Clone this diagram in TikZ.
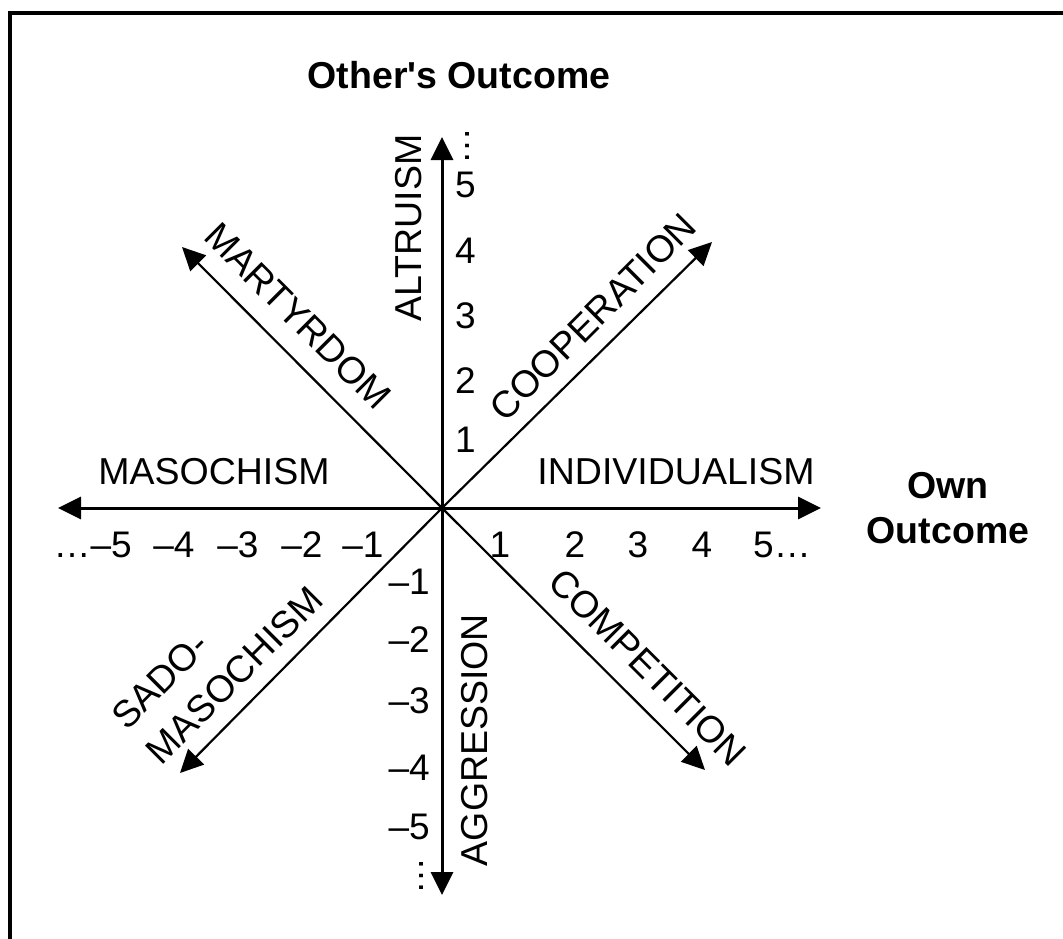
\documentclass[tikz,border=0pt]{standalone}
\usepackage{fontspec}
\setmainfont{Liberation Sans}
\usetikzlibrary{arrows.meta}
\begin{document}
\begin{tikzpicture}[x=1pt,y=-1pt,
  axis/.style={line width=3pt,-{Triangle[length=23pt,width=22pt]}},
  diag/.style={line width=2.2pt,-{Triangle[length=23pt,width=22pt]}},
  lbl/.style={inner sep=0pt,font=\fontsize{37.5}{46}\selectfont},
  num/.style={inner sep=0pt,font=\fontsize{37}{44}\selectfont},
  ttl/.style={inner sep=0pt,align=center,font=\fontsize{37.5}{45}\selectfont\bfseries}]
\useasboundingbox (0,0) rectangle (1063,938);
\draw[line width=4pt] (10,945) -- (10,13) -- (1070,13);

\coordinate (O) at (442,508);
\coordinate (L) at (58,508);
\coordinate (R) at (821,508);
\coordinate (T) at (442,137);
\coordinate (B) at (442,895);
\coordinate (UL) at (182,247);
\coordinate (UR) at (712,242);
\coordinate (DR) at (705,770);
\coordinate (DL) at (180,773);

\draw[axis] (O) -- (L);
\draw[axis] (O) -- (R);
\draw[axis] (O) -- (T);
\draw[axis] (O) -- (B);
\draw[diag] (O) -- (UL);
\draw[diag] (O) -- (UR);
\draw[diag] (O) -- (DR);
\draw[diag] (O) -- (DL);

\node[ttl] (title) at (459,75) {Other\textquotesingle s Outcome};
\node[ttl] (own) at (948,508) {Own\\Outcome};

\node[lbl] (maso) at (214,472) {MASOCHISM};
\node[lbl] (indiv) at (676,472) {INDIVIDUALISM};
\node[lbl,rotate=90] (altr) at (409,228) {ALTRUISM};
\node[lbl,rotate=90] (aggr) at (475,740) {AGGRESSION};
\node[lbl,rotate=-45] (mart) at (298,316) {MARTYRDOM};
\node[lbl,rotate=45] (coop) at (593,317) {COOPERATION};
\node[lbl,rotate=-45] (comp) at (648,667) {COMPETITION};
\node[lbl,rotate=45,align=left,font=\fontsize{37.5}{49}\selectfont] (sado) at (217,658) {SADO-\\MASOCHISM};

% horizontal numbers
\node[num,anchor=east] (hm5) at (132,545) {…–5};
\node[num] (hm4) at (174,545) {–4};
\node[num] (hm3) at (238,545) {–3};
\node[num] (hm2) at (302,545) {–2};
\node[num] (hm1) at (363,545) {–1};
\node[num] (hp1) at (500,545) {1};
\node[num] (hp2) at (575,545) {2};
\node[num] (hp3) at (638,545) {3};
\node[num] (hp4) at (702,545) {4};
\node[num,anchor=west] (hp5) at (753,545) {5…};

% vertical numbers
\node[num,rotate=90] (vdotsT) at (468,146) {…};
\node[num,anchor=west] (vp5) at (455,185) {5};
\node[num,anchor=west] (vp4) at (455,251) {4};
\node[num,anchor=west] (vp3) at (455,316) {3};
\node[num,anchor=west] (vp2) at (455,381) {2};
\node[num,anchor=west] (vp1) at (455,440) {1};
\node[num,anchor=east] (vm1) at (430,582) {–1};
\node[num,anchor=east] (vm2) at (430,640) {–2};
\node[num,anchor=east] (vm3) at (430,701) {–3};
\node[num,anchor=east] (vm4) at (430,768) {–4};
\node[num,anchor=east] (vm5) at (430,827) {–5};
\node[num,rotate=90] (vdotsB) at (422,876) {…};
\end{tikzpicture}
\end{document}
